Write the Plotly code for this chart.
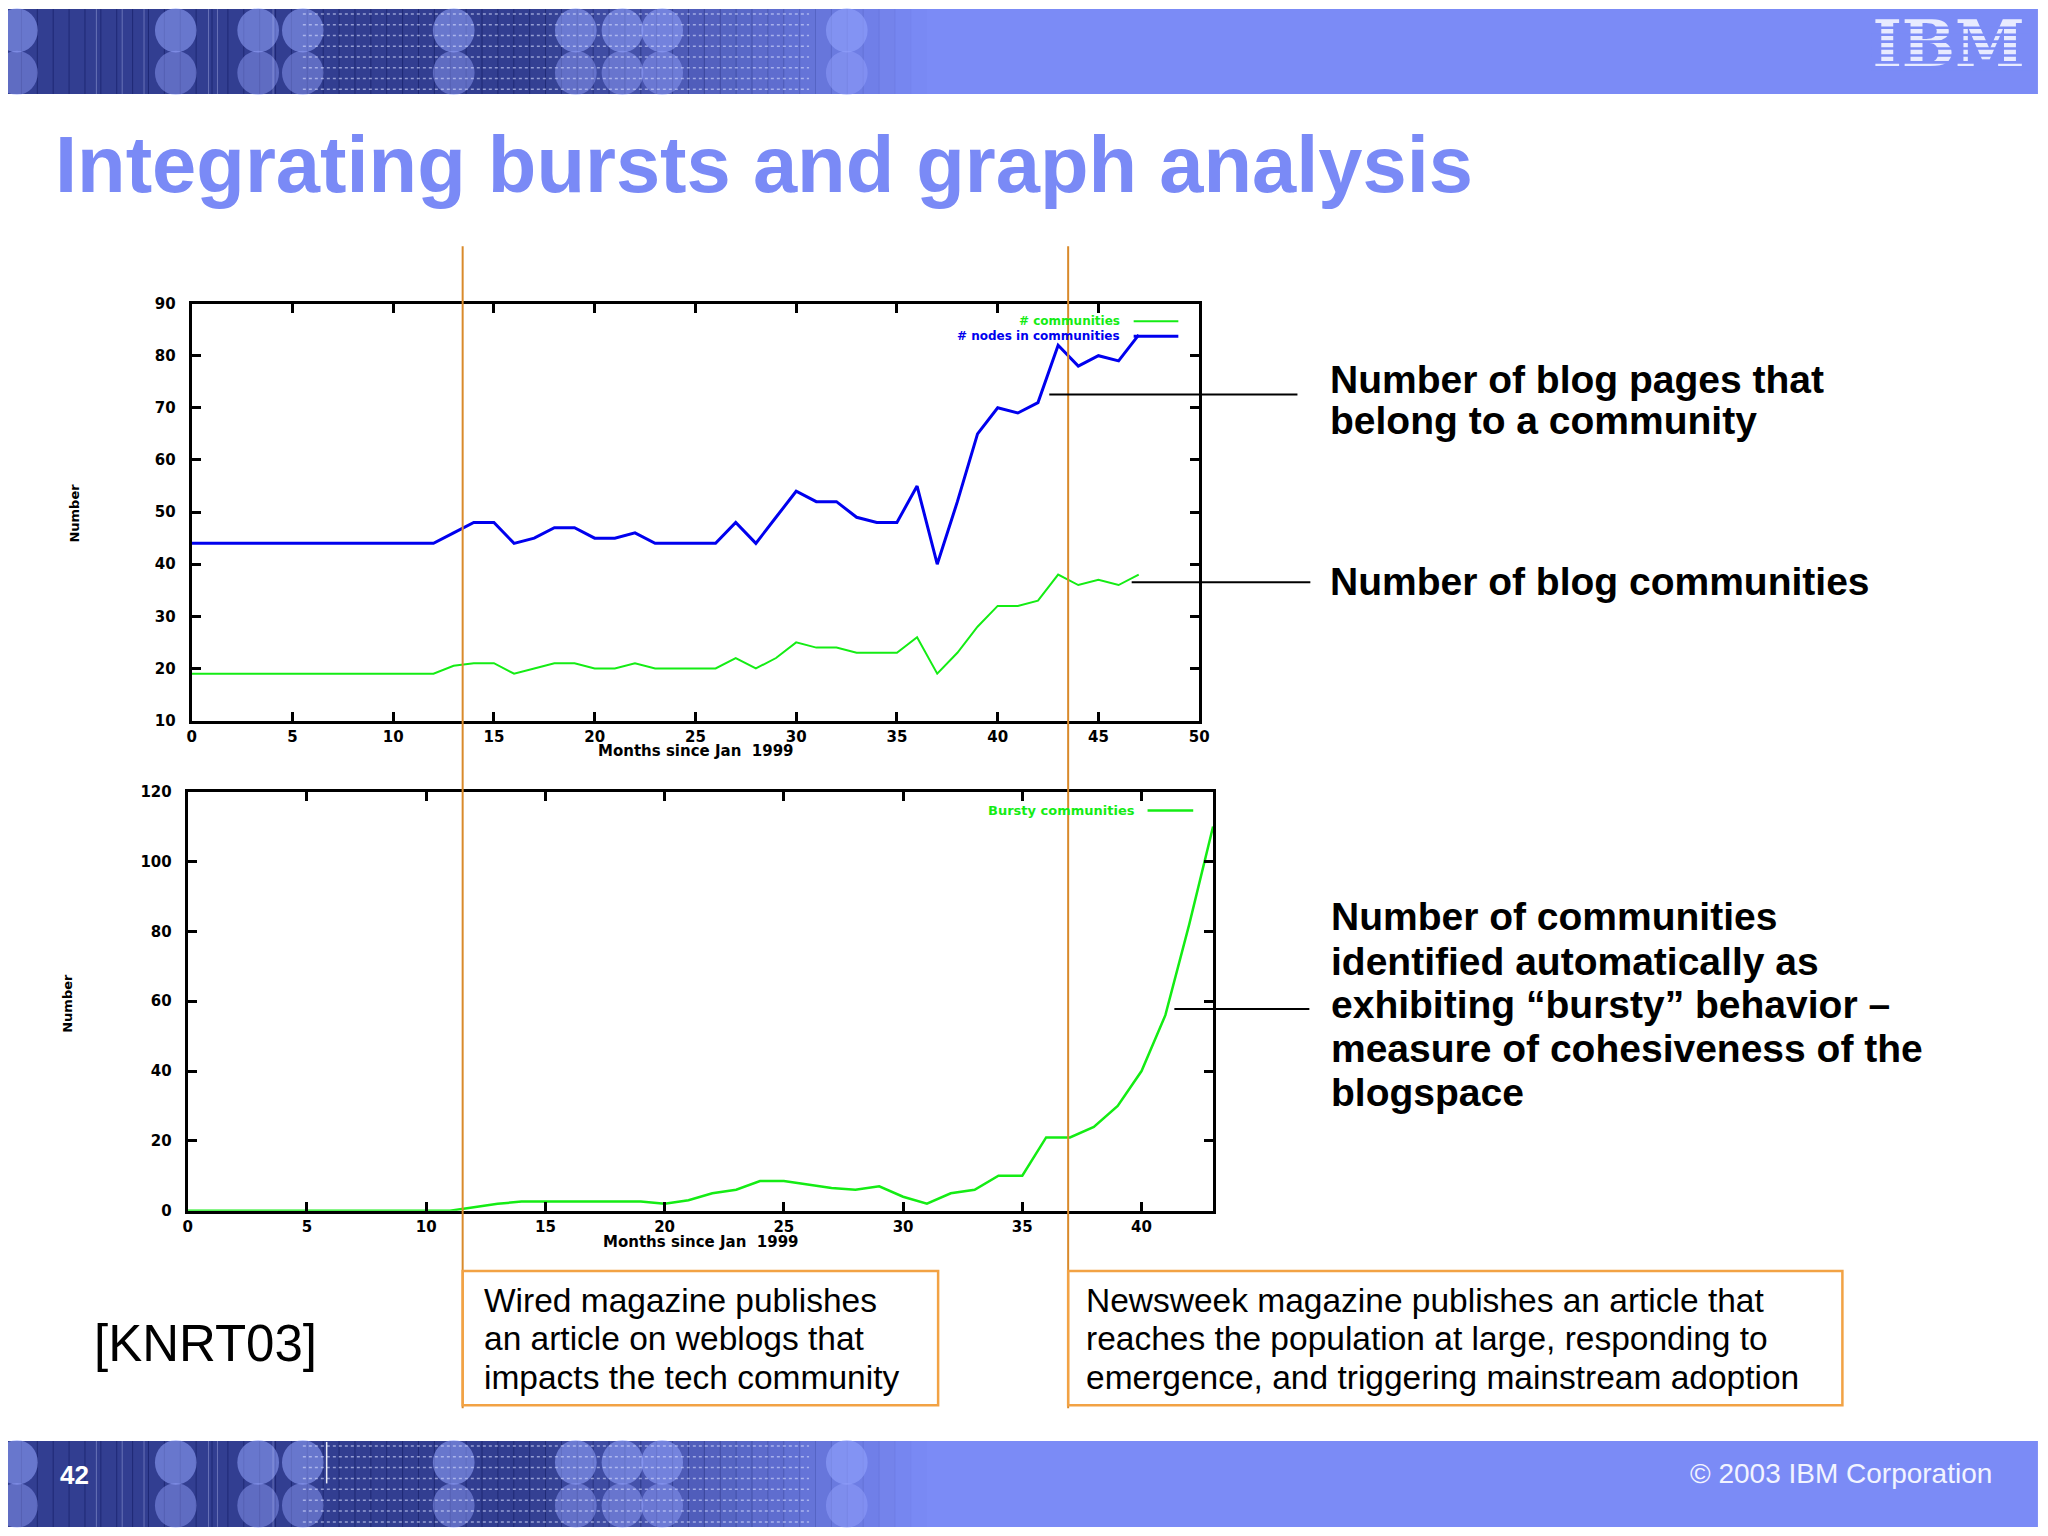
import plotly.graph_objects as go

# ---------------- data ----------------
months_top = [0, 1, 2, 3, 4, 5, 6, 7, 8, 9, 10, 11, 12, 13, 14, 15, 16, 17, 18, 19,
              20, 21, 22, 23, 24, 25, 26, 27, 28, 29, 30, 31, 32, 33, 34, 35, 36, 37,
              38, 39, 40, 41, 42, 43, 44, 45, 46, 47]
nodes_in_communities = [44, 44, 44, 44, 44, 44, 44, 44, 44, 44, 44, 44, 44, 46, 48, 48,
                        44, 45, 47, 47, 45, 45, 46, 44, 44, 44, 44, 48, 44, 49, 54, 52,
                        52, 49, 48, 48, 55, 40, 52, 65, 70, 69, 71, 82, 78, 80, 79, 84]
communities = [19, 19, 19, 19, 19, 19, 19, 19, 19, 19, 19, 19, 19, 20.5, 21, 21,
               19, 20, 21, 21, 20, 20, 21, 20, 20, 20, 20, 22, 20, 22, 25, 24,
               24, 23, 23, 23, 26, 19, 23, 28, 32, 32, 33, 38, 36, 37, 36, 38]

months_bottom = [0, 1, 2, 3, 4, 5, 6, 7, 8, 9, 10, 11, 12, 13, 14, 15, 16, 17, 18, 19,
                 20, 21, 22, 23, 24, 25, 26, 27, 28, 29, 30, 31, 32, 33, 34, 35, 36, 37,
                 38, 39, 40, 41, 42, 43]
bursty_communities = [0, 0, 0, 0, 0, 0, 0, 0, 0, 0, 0, 0, 1, 2, 2.6, 2.6, 2.6, 2.6, 2.6, 2.6,
                      2, 3, 5, 6, 8.5, 8.5, 7.5, 6.5, 6, 7, 4, 2, 5, 6, 10, 10, 21, 21,
                      24, 30, 40, 56, 82, 110]

top_x_ticks = [0, 5, 10, 15, 20, 25, 30, 35, 40, 45, 50]
top_y_ticks = [10, 20, 30, 40, 50, 60, 70, 80, 90]
bottom_x_ticks = [0, 5, 10, 15, 20, 25, 30, 35, 40]
bottom_y_ticks = [0, 20, 40, 60, 80, 100, 120]

# ---------------- page geometry ----------------
# The page body keeps an 8px margin, so the figure is sized to fit inside the
# 2048x1536 window without scrollbars; positions below are given in window pixels.
OFF = 8
FW, FH = 2048 - 2 * OFF, 1536 - 2 * OFF


def X(p):
    return (p - OFF) / FW


def Y(p):
    return 1 - (p - OFF) / FH


BAND = "#7b8bf6"
BLUE = "#0000ee"
GREEN = "#14ec14"
ORANGE_LINE = "#d98a2b"
ORANGE_BOX = "#f2a244"

fig = go.Figure()

fig.add_trace(go.Scatter(x=months_top, y=nodes_in_communities, mode="lines",
                         line=dict(color=BLUE, width=3), xaxis="x", yaxis="y",
                         name="# nodes in communities", hoverinfo="x+y"))
fig.add_trace(go.Scatter(x=months_top, y=communities, mode="lines",
                         line=dict(color=GREEN, width=2), xaxis="x", yaxis="y",
                         name="# communities", hoverinfo="x+y"))
fig.add_trace(go.Scatter(x=months_bottom, y=bursty_communities, mode="lines",
                         line=dict(color=GREEN, width=2.5), xaxis="x2", yaxis="y2",
                         name="Bursty communities", hoverinfo="x+y"))
# IBM logo text (on a hidden full-page axis so stripes can be laid over it)
fig.add_trace(go.Scatter(x=[1958], y=[42], mode="text", text=["IBM"],
                         textfont=dict(family="DejaVu Serif", size=63, color="#e8ebff",
                                       weight="bold"),
                         xaxis="x3", yaxis="y3", hoverinfo="skip", cliponaxis=False,
                         textposition="middle center"))

axis_common = dict(showline=True, linecolor="black", linewidth=3, mirror="ticks",
                   ticks="inside", ticklen=9, tickwidth=3, tickcolor="black",
                   showgrid=False, zeroline=False, fixedrange=True,
                   tickfont=dict(family="DejaVu Sans", size=15, color="black", weight="bold"))

fig.update_layout(
    width=FW, height=FH,
    margin=dict(l=0, r=0, t=0, b=0),
    paper_bgcolor="white", plot_bgcolor="rgba(0,0,0,0)",
    showlegend=False,
    xaxis=dict(axis_common, domain=[X(188), X(1203)], range=[0, 50],
               tickvals=top_x_ticks, anchor="y"),
    yaxis=dict(axis_common, domain=[Y(720), Y(298)], range=[10, 90],
               tickvals=top_y_ticks, anchor="x", ticklabelstandoff=10),
    xaxis2=dict(axis_common, domain=[X(184), X(1217)], range=[0, 43],
                tickvals=bottom_x_ticks, anchor="y2"),
    yaxis2=dict(axis_common, domain=[Y(1216), Y(792)], range=[0, 120],
                tickvals=bottom_y_ticks, anchor="x2", ticklabelstandoff=10),
    xaxis3=dict(domain=[0, 1], range=[OFF, OFF + FW], visible=False, anchor="y3",
                fixedrange=True),
    yaxis3=dict(domain=[0, 1], range=[OFF + FH, OFF], visible=False, anchor="x3",
                fixedrange=True),
)

shapes = []


def rect(x0, y0, x1, y1, fill, layer="below", line_color=None, line_width=0):
    shapes.append(dict(type="rect", xref="paper", yref="paper", x0=X(x0), x1=X(x1),
                       y0=Y(y1), y1=Y(y0), fillcolor=fill, layer=layer,
                       line=dict(width=line_width, color=line_color or "rgba(0,0,0,0)")))


def hline(x0, x1, y, color, width=2, layer="above", dash="solid"):
    shapes.append(dict(type="line", xref="paper", yref="paper", x0=X(x0), x1=X(x1),
                       y0=Y(y), y1=Y(y), layer=layer,
                       line=dict(color=color, width=width, dash=dash)))


def vline(x, y0, y1, color, width=2, layer="above"):
    shapes.append(dict(type="line", xref="paper", yref="paper", x0=X(x), x1=X(x),
                       y0=Y(y0), y1=Y(y1), layer=layer, line=dict(color=color, width=width)))


def oval(cx, cy, rx, ry, fill):
    shapes.append(dict(type="circle", xref="paper", yref="paper",
                       x0=X(cx - rx), x1=X(cx + rx), y0=Y(cy + ry), y1=Y(cy - ry),
                       fillcolor=fill, layer="below", line=dict(width=0)))


def decorated_band(y0, y1):
    rect(0, y0, 2048, y1, BAND)
    step = 16
    for i in range(0, 920, step):
        if i < 520:
            a = 0.72
        else:
            a = max(0.0, 0.72 * (1 - (i - 520) / 400))
        rect(i, y0, i + step + 1, y1, "rgba(22,32,105,%.3f)" % a)
    hgt = y1 - y0
    for cx in [12, 172, 255, 300, 452, 575, 622, 662, 848]:
        oval(cx, y0 + hgt * 0.25, 21, hgt * 0.26, "rgba(150,165,255,0.55)")
        oval(cx, y0 + hgt * 0.75, 21, hgt * 0.26, "rgba(150,165,255,0.45)")
    for k in range(8):
        yy = y0 + 5 + k * (hgt - 10) / 7
        hline(300, 810, yy, "rgba(215,222,255,0.6)", width=1.5, layer="below", dash="dot")
    for xx in [92, 118, 140, 205, 214, 270]:
        vline(xx, y0, y1, "rgba(205,212,255,0.35)", width=1, layer="below")


decorated_band(0, 86)
decorated_band(1449, 1536)
vline(324, 1450, 1492, "rgba(255,255,255,0.9)", width=1.5, layer="below")

# IBM logo stripes (drawn over the logo text)
for k in range(7):
    yy = 13 + 7 * k + 4.6
    rect(1880, yy, 2040, yy + 2.6, BAND, layer="above")

# orange event lines and boxes
vline(461, 240, 1416, ORANGE_LINE, width=2)
vline(1071, 240, 1416, ORANGE_LINE, width=2)
rect(461, 1277, 940, 1413, "rgba(0,0,0,0)", layer="above", line_color=ORANGE_BOX, line_width=2.5)
rect(1071, 1277, 1851, 1413, "rgba(0,0,0,0)", layer="above", line_color=ORANGE_BOX, line_width=2.5)

# connectors
hline(1052, 1302, 390, "black", width=2)
hline(1135, 1315, 580, "black", width=2)
hline(1178, 1314, 1012, "black", width=2)

# legend sample lines (gnuplot style: text left, sample right)
hline(1137, 1182, 316, GREEN, width=2)
hline(1137, 1182, 331, BLUE, width=3)
hline(1151, 1197, 811, GREEN, width=2.5)

fig.update_layout(shapes=shapes)

ann = []


def text(x, y, s, size, color="black", family="Liberation Sans", weight="normal",
         xanchor="left", angle=0):
    ann.append(dict(xref="paper", yref="paper", x=X(x), y=Y(y), text=s, showarrow=False,
                    xanchor=xanchor, yanchor="middle", textangle=angle, borderpad=0,
                    font=dict(family=family, size=size, color=color, weight=weight)))


text(49, 157.5, "Integrating bursts and graph analysis", 79.5, color="#7a8af6", weight="bold")

text(1334, 374.5, "Number of blog pages that", 39, weight="bold")
text(1334, 416.5, "belong to a community", 39, weight="bold")
text(1334, 579.5, "Number of blog communities", 39, weight="bold")
for yy, s in zip([918.5, 963.5, 1007.5, 1051.5, 1096.5],
                 ["Number of communities", "identified automatically as",
                  "exhibiting \u201cbursty\u201d behavior \u2013",
                  "measure of cohesiveness of the", "blogspace"]):
    text(1335, yy, s, 39, weight="bold")

for yy, s in zip([1306.5, 1345.5, 1384.5],
                 ["Wired magazine publishes", "an article on weblogs that",
                  "impacts the tech community"]):
    text(481, yy, s, 33.5)
for yy, s in zip([1306.5, 1345.5, 1384.5],
                 ["Newsweek magazine publishes an article that",
                  "reaches the population at large, responding to",
                  "emergence, and triggering mainstream adoption"]):
    text(1088, yy, s, 33.5)

text(89, 1350, "[KNRT03]", 51)

text(54, 1483, "42", 26, color="white", weight="bold")
text(2003, 1482, "\u00a9 2003 IBM Corporation", 28, color="#f2f4ff", xanchor="right")

text(696, 751, "Months since Jan\u00a0 1999", 15, family="DejaVu Sans", weight="bold",
     xanchor="center")
text(701, 1248, "Months since Jan\u00a0 1999", 15, family="DejaVu Sans", weight="bold",
     xanchor="center")
text(70, 510, "Number", 13, family="DejaVu Sans", weight="bold", xanchor="center", angle=-90)
text(63, 1006, "Number", 13, family="DejaVu Sans", weight="bold", xanchor="center", angle=-90)

text(1124, 316, "# communities", 12, color=GREEN, family="DejaVu Sans", weight="bold",
     xanchor="right")
text(1124, 331, "# nodes in communities", 12, color=BLUE, family="DejaVu Sans", weight="bold",
     xanchor="right")
text(1139, 811, "Bursty communities", 13, color=GREEN, family="DejaVu Sans", weight="bold",
     xanchor="right")

fig.update_layout(annotations=ann)

fig.write_html("out.html", config={"displayModeBar": False})
